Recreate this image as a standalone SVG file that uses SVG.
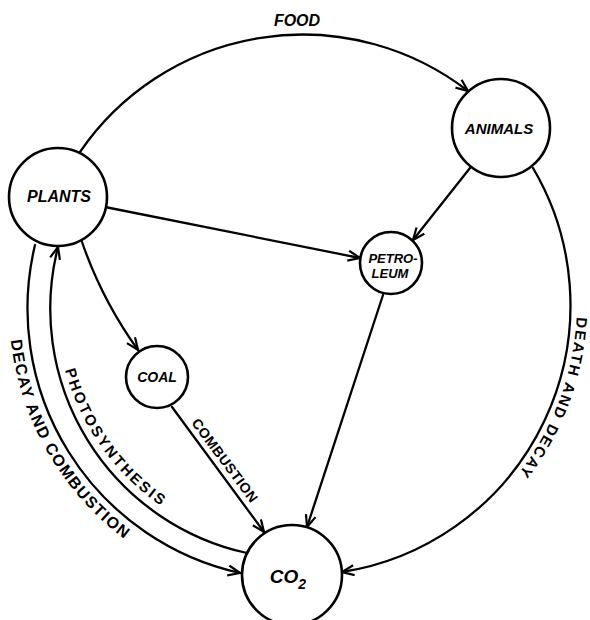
<svg xmlns="http://www.w3.org/2000/svg" width="590" height="620" viewBox="0 0 590 620">
<style>
  .node circle { fill: #fff; stroke: #000; stroke-width: 2.6; }
  .lbl { font-family: "Liberation Sans", Arial, sans-serif; font-style: italic; font-weight: bold; fill: #000; text-anchor: middle; }
  .conn { fill: none; stroke: #000; stroke-width: 2.3; stroke-linecap: round; marker-end: url(#arr); }
  .side { font-family: "Liberation Sans", Arial, sans-serif; font-weight: bold; fill: #000; }
</style>
<defs>
  <marker id="arr" markerUnits="userSpaceOnUse" markerWidth="16" markerHeight="14" refX="13" refY="6" orient="auto">
    <path d="M1,1 L13,6 L1,11" fill="none" stroke="#000" stroke-width="2.2" stroke-linejoin="miter"/>
  </marker>
  <path id="tpDeath" d="M576.6,317 A277,277 0 0 1 478.1,515.2"/>
  <path id="tpDecay" d="M10.8,340.2 A289,289 0 0 0 199.2,579.6"/>
  <path id="tpPhoto" d="M65.1,369.9 A241,241 0 0 0 184,520"/>
</defs>
<rect width="590" height="620" fill="#fff"/>
<g id="connectors">
  <path class="conn" d="M80,152 A270,270 0 0 1 468,91"/>
  <path class="conn" d="M533,168 A270,270 0 0 1 342,572"/>
  <path class="conn" d="M247,553 A250,250 0 0 1 58,247"/>
  <path class="conn" d="M35,245 A271,271 0 0 0 240,573"/>
  <path class="conn" d="M105,207 L360,258"/>
  <path class="conn" d="M470,168 L413,240"/>
  <path class="conn" d="M82,242 Q102,300 138,350"/>
  <path class="conn" d="M172,407 L264,532"/>
  <path class="conn" d="M383,295 L307,527"/>
  <text class="side" style="font-style:italic" x="297" y="26" text-anchor="middle" font-size="16">FOOD</text>
  <text class="side" font-size="15" letter-spacing="1.9"><textPath href="#tpDeath">DEATH AND DECAY</textPath></text>
  <text class="side" font-size="16" letter-spacing="1.5"><textPath href="#tpDecay">DECAY AND COMBUSTION</textPath></text>
  <text class="side" font-size="15" letter-spacing="2.4"><textPath href="#tpPhoto">PHOTOSYNTHESIS</textPath></text>
  <text class="side" font-size="14" letter-spacing="0.5" text-anchor="middle" transform="translate(221,463.5) rotate(53.4)">COMBUSTION</text>
</g>
<g id="plants" class="node">
  <circle cx="58" cy="197" r="49"/>
  <text class="lbl" x="59" y="202" font-size="16">PLANTS</text>
</g>
<g id="animals" class="node">
  <circle cx="501" cy="128" r="49"/>
  <text class="lbl" x="499" y="134" font-size="15">ANIMALS</text>
</g>
<g id="petroleum" class="node">
  <circle cx="391" cy="263" r="31"/>
  <text class="lbl" x="393" y="263" font-size="13">PETRO-</text>
  <text class="lbl" x="390" y="278" font-size="13">LEUM</text>
</g>
<g id="coal" class="node">
  <circle cx="157" cy="377" r="31"/>
  <text class="lbl" x="157" y="382" font-size="14">COAL</text>
</g>
<g id="co2" class="node">
  <circle cx="292" cy="575" r="50"/>
  <text class="lbl" x="288" y="583" font-size="19">CO<tspan font-size="14" dy="6">2</tspan></text>
</g>
</svg>
